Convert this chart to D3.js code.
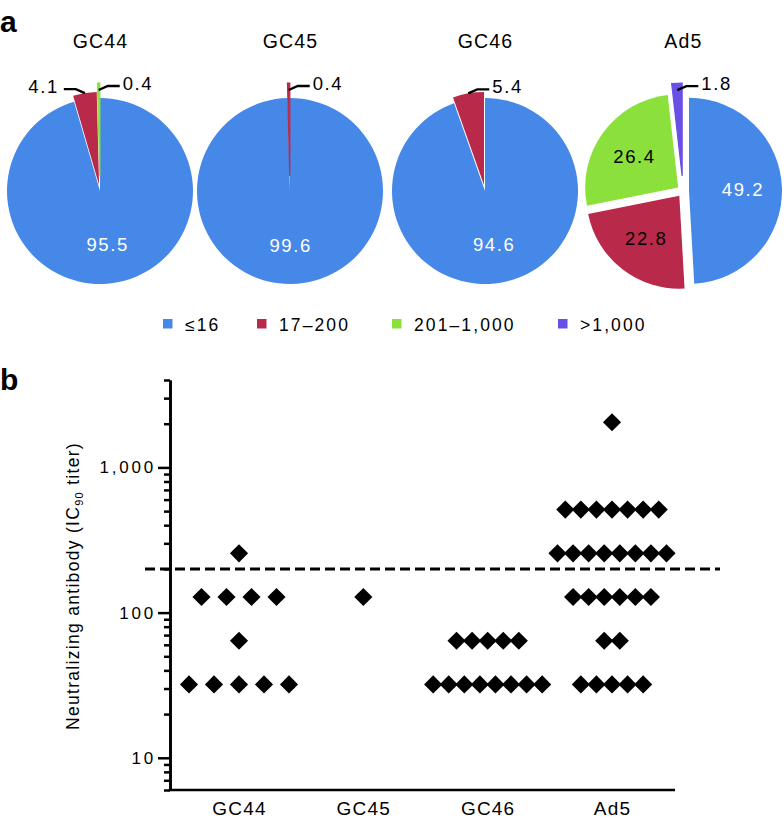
<!DOCTYPE html>
<html>
<head>
<meta charset="utf-8">
<script src="https://cdn.jsdelivr.net/npm/d3@7"></script>
<style>
  body { margin: 0; background: #fff; }
  text { font-family: "Liberation Sans", Arial, sans-serif; fill: #000; }
</style>
</head>
<body>
<svg id="chart" width="784" height="819"></svg>
<script>
// ---- data ----
const vectors = ["GC44", "GC45", "GC46", "Ad5"];
const bins = ["≤16", "17–200", "201–1,000", ">1,000"];
const binColors = ["#4688e8", "#b92a4a", "#8ce03c", "#6a4fe6"];

// percent of sera in each titer bin
const pctGC44 = [95.5, 4.1, 0.4, 0];
const pctGC45 = [99.6, 0.4, 0, 0];
const pctGC46 = [94.6, 5.4, 0, 0];
const pctAd5 = [49.2, 22.8, 26.4, 1.8];

// IC90 titers, one entry per serum
const titerGC44 = [256, 128, 128, 128, 128, 64, 32, 32, 32, 32, 32];
const titerGC45 = [128];
const titerGC46 = [64, 64, 64, 64, 64, 32, 32, 32, 32, 32, 32, 32, 32];
const titerAd5 = [2048, 512, 512, 512, 512, 512, 512, 512,
  256, 256, 256, 256, 256, 256, 256, 256,
  128, 128, 128, 128, 128, 128, 64, 64, 32, 32, 32, 32, 32];
const yTickLabels = [10, 100, 1000];
const threshold = 200;

// ---- layout ----
const svg = d3.select("#chart");
const pieCx = [100, 290, 485, 683];
const pieCy = 191, pieR = 93;
const calloutLeft = { "GC44": [1] };   // which small slices get their label on the left
const legendX = [163, 257, 392, 558];

const pies = [pctGC44, pctGC45, pctGC46, pctAd5];
const titers = [titerGC44, titerGC45, titerGC46, titerAd5];

svg.append("text").attr("x", 0).attr("y", 32)
  .attr("font-size", 30).attr("font-weight", "bold").text("a");
svg.append("text").attr("x", 0).attr("y", 390)
  .attr("font-size", 30).attr("font-weight", "bold").text("b");

// ---- panel a: pies ----
const pie = d3.pie().sort(null).value(d => d);
const arc = d3.arc().innerRadius(0).outerRadius(pieR);

function explodeOf(v) {
  if (v < 2) return 15;
  if (v < 50) return 6;
  return 0;
}

pies.forEach((values, i) => {
  const name = vectors[i];
  const g = svg.append("g").attr("transform", `translate(${pieCx[i]},${pieCy})`);

  svg.append("text")
    .attr("x", pieCx[i] + 0.5).attr("y", 48)
    .attr("text-anchor", "middle")
    .attr("font-size", 19.5).attr("letter-spacing", 1.2)
    .text(name);

  const slices = pie(values).map((d, k) => ({ ...d, k })).filter(d => d.value > 0);

  slices.forEach(d => {
    const a = (d.startAngle + d.endAngle) / 2;
    const off = explodeOf(d.value);
    g.append("path")
      .attr("d", arc(d))
      .attr("fill", binColors[d.k])
      .attr("stroke", d.value < 2 ? binColors[d.k] : "none")
      .attr("stroke-width", 1.2)
      .attr("transform", `translate(${off * Math.sin(a)},${-off * Math.cos(a)})`);
  });

  slices.forEach(d => {
    const a = (d.startAngle + d.endAngle) / 2;
    const off = explodeOf(d.value);
    if (d.value >= 10) {
      const lr = 54 + off;
      g.append("text")
        .attr("x", lr * Math.sin(a)).attr("y", -lr * Math.cos(a) + 7)
        .attr("text-anchor", "middle")
        .attr("font-size", 18.5).attr("letter-spacing", 1.6)
        .style("fill", d.k === 0 ? "#fff" : "#000")
        .text(d3.format(".1f")(d.value));
    } else {
      const left = (calloutLeft[name] || []).includes(d.k);
      const dir = left ? -1 : 1;
      const r0 = pieR + Math.min(off, 8);
      const p0 = [r0 * Math.sin(a), -r0 * Math.cos(a)];
      const p1 = [p0[0] + dir * 9, p0[1] - 4];
      const p2 = [p1[0] + dir * 12, p1[1]];
      g.append("path")
        .attr("d", d3.line()([p0, p1, p2]))
        .attr("fill", "none").attr("stroke", "#000").attr("stroke-width", 2.4);
      g.append("text")
        .attr("x", p2[0] + dir * (left ? 5 : 3)).attr("y", p2[1] + 4)
        .attr("text-anchor", left ? "end" : "start")
        .attr("font-size", 18.5).attr("letter-spacing", 1.6)
        .text(d3.format(".1f")(d.value));
    }
  });
});

// legend
bins.forEach((b, k) => {
  svg.append("rect")
    .attr("x", legendX[k]).attr("y", 319).attr("width", 9.5).attr("height", 9.5)
    .attr("fill", binColors[k]);
  svg.append("text")
    .attr("x", legendX[k] + 22).attr("y", 331)
    .attr("font-size", 17.5).attr("letter-spacing", 2.1)
    .text(b);
});

// ---- panel b: dot plot ----
const axisX = 170, axisRight = 675;
const y = d3.scaleLog().domain([6, 4000]).range([790, 380]);
const x = d3.scalePoint().domain(vectors).range([239, 612]);

const yMinor = y.ticks().filter(t => !yTickLabels.includes(t));

const minorAxis = svg.append("g").attr("transform", `translate(${axisX},0)`)
  .call(d3.axisLeft(y).tickValues(yMinor).tickSize(6).tickSizeOuter(0).tickFormat(""));
const majorAxis = svg.append("g").attr("transform", `translate(${axisX},0)`)
  .call(d3.axisLeft(y).tickValues(yTickLabels).tickSize(12).tickSizeOuter(0)
    .tickPadding(2).tickFormat(d3.format(",")));

[minorAxis, majorAxis].forEach(ax => {
  ax.selectAll("line").attr("stroke", "#000").attr("stroke-width", 2.5);
  ax.select(".domain").attr("stroke", "#000").attr("stroke-width", 2.6);
});
majorAxis.selectAll("text")
  .attr("font-size", 17).attr("letter-spacing", 2.8)
  .attr("font-family", "Liberation Sans, Arial, sans-serif");

const xAxis = svg.append("g").attr("transform", "translate(0,790)")
  .call(d3.axisBottom(x).tickSize(0).tickPadding(12));
xAxis.select(".domain").remove();
xAxis.selectAll("text")
  .attr("font-size", 19).attr("letter-spacing", 1.2)
  .attr("font-family", "Liberation Sans, Arial, sans-serif");
svg.append("line")
  .attr("x1", axisX - 1.3).attr("x2", axisRight)
  .attr("y1", 790).attr("y2", 790)
  .attr("stroke", "#000").attr("stroke-width", 2.6);

// threshold
svg.append("line")
  .attr("x1", 145).attr("x2", 720)
  .attr("y1", y(threshold)).attr("y2", y(threshold))
  .attr("stroke", "#000").attr("stroke-width", 3)
  .attr("stroke-dasharray", "10,5");

// diamonds
const diamond = d3.symbol().type(d3.symbolSquare).size(165);
const maxSpan = 109;
titers.forEach((vals, i) => {
  const rows = d3.rollup(vals, v => v.length, v => v);
  const maxRow = d3.max(rows.values());
  const step = maxRow > 1 ? Math.min(25, maxSpan / (maxRow - 1)) : 0;
  rows.forEach((n, v) => {
    d3.range(n).forEach(j => {
      const px = x(vectors[i]) + (j - (n - 1) / 2) * step;
      svg.append("path")
        .attr("d", diamond())
        .attr("transform", `translate(${px},${y(v)}) rotate(45)`)
        .attr("fill", "#000");
    });
  });
});

// y label
const yLabel = svg.append("text")
  .attr("transform", "translate(79,586) rotate(-90)")
  .attr("text-anchor", "middle")
  .attr("font-size", 17.5).attr("letter-spacing", 1.3);
yLabel.append("tspan").text("Neutralizing antibody (IC");
yLabel.append("tspan").attr("font-size", 11).attr("dy", 4).text("90");
yLabel.append("tspan").attr("dy", -4).text(" titer)");
</script>
</body>
</html>
